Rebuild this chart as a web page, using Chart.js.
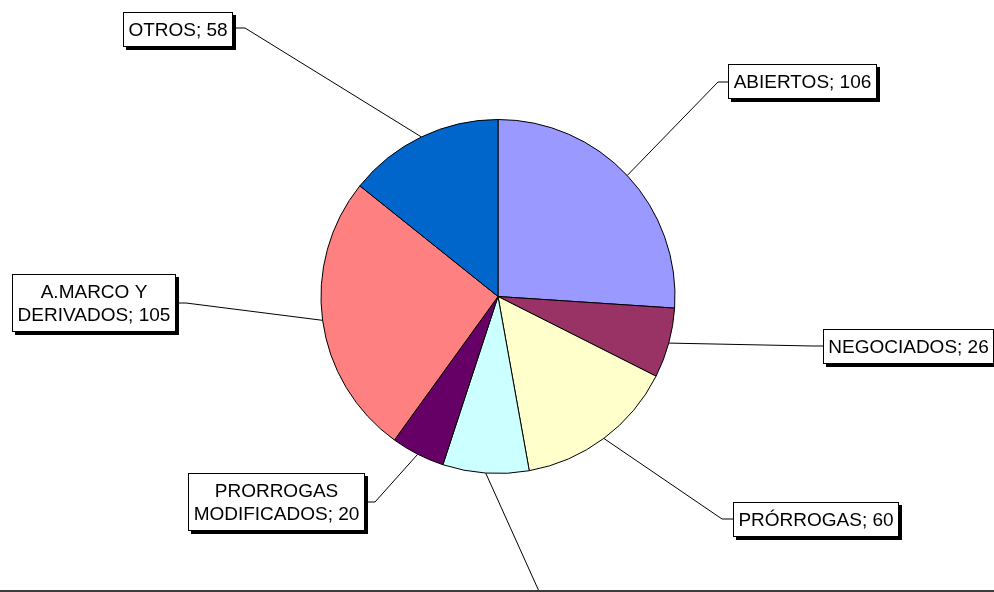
<!DOCTYPE html>
<html><head><meta charset="utf-8">
<script src="https://cdn.jsdelivr.net/npm/chart.js@4/dist/chart.umd.min.js"></script>
<style>html,body{margin:0;padding:0;background:#fff;overflow:hidden}#wrap{width:994px;height:592px;position:relative}</style>
</head><body><div id="wrap"><canvas id="c" width="994" height="592"></canvas></div>
<script>
const categories = ["ABIERTOS","NEGOCIADOS","PRÓRROGAS","RESTRINGIDOS","PRORROGAS MODIFICADOS","A.MARCO Y DERIVADOS","OTROS"];
const values = [106, 26, 60, 32, 20, 105, 58];
const colors = ["#9999FF","#993366","#FFFFCC","#CCFFFF","#660066","#FF8080","#0066CC"];

// label box layout (anchor side, anchor x, top y, elbow point, optional line split)
const labelLayout = [
  {side:'left',  ax:728, top:64,  elbow:[718,82]},
  {side:'left',  ax:823, top:329, elbow:[813,346]},
  {side:'left',  ax:733, top:502, elbow:[722,519]},
  {side:'left',  ax:566, top:612, elbow:[556,629]},
  {side:'right', ax:365, top:473, elbow:[375,502], split:'PRORROGAS'},
  {side:'right', ax:176, top:274, elbow:[186,303], split:'A.MARCO Y'},
  {side:'right', ax:233, top:12,  elbow:[245,28]}
];

const FONT = '19px "Liberation Sans", Arial, sans-serif';
const LINE_H = 23;

const calloutPlugin = {
  id: 'callouts',
  afterDraw(chart) {
    const ctx = chart.ctx;
    const meta = chart.getDatasetMeta(0);
    ctx.save();
    ctx.font = FONT;
    meta.data.forEach((arc, i) => {
      const p = arc.getProps(['x','y','startAngle','endAngle','outerRadius'], true);
      const mid = (p.startAngle + p.endAngle) / 2;
      const px = p.x + Math.cos(mid) * p.outerRadius;
      const py = p.y + Math.sin(mid) * p.outerRadius;
      const L = labelLayout[i];
      const text = categories[i] + '; ' + values[i];
      let lines = [text];
      if (L.split) lines = [L.split, text.slice(L.split.length).trim()];
      const tw = Math.max(...lines.map(l => ctx.measureText(l).width));
      const w = Math.round(tw + 11);
      const h = lines.length * LINE_H + 12;
      const bx = L.side === 'left' ? L.ax : L.ax - w;
      const by = L.top;
      const attachY = by + h / 2;
      // leader line
      ctx.strokeStyle = '#000';
      ctx.lineWidth = 1;
      ctx.beginPath();
      ctx.moveTo(px, py);
      ctx.lineTo(L.elbow[0], L.elbow[1]);
      ctx.lineTo(L.side === 'left' ? bx : bx + w, L.elbow[1]);
      ctx.stroke();
      // box with shadow
      ctx.fillStyle = '#000';
      ctx.fillRect(bx + 3, by + 3, w, h);
      ctx.fillStyle = '#fff';
      ctx.fillRect(bx, by, w, h);
      ctx.strokeRect(bx + 0.5, by + 0.5, w - 1, h - 1);
      ctx.fillStyle = '#000';
      ctx.textAlign = 'center';
      ctx.textBaseline = 'middle';
      lines.forEach((l, k) => ctx.fillText(l, bx + w / 2, by + 6 + LINE_H * (k + 0.5) + 1));
    });
    // bottom frame line
    ctx.fillStyle = '#3c3c3c';
    ctx.fillRect(0, 590, chart.width, 2);
    ctx.restore();
  }
};

new Chart(document.getElementById('c'), {
  type: 'pie',
  data: {
    labels: categories,
    datasets: [{
      data: values,
      backgroundColor: colors,
      borderColor: '#000',
      borderWidth: 1
    }]
  },
  options: {
    responsive: false,
    animation: false,
    radius: 177,
    layout: { padding: { left: 2, top: 1 } },
    plugins: { legend: { display: false }, tooltip: { enabled: false } }
  },
  plugins: [calloutPlugin]
});
</script>
</body></html>
